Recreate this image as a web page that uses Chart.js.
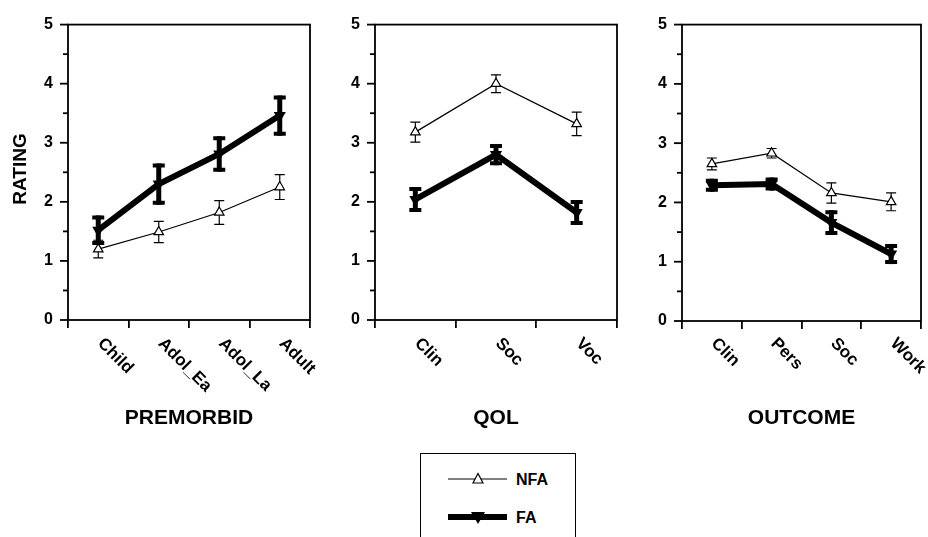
<!DOCTYPE html>
<html><head><meta charset="utf-8">
<script src="https://cdn.jsdelivr.net/npm/chart.js@4.4.1/dist/chart.umd.min.js"></script>
<style>
html,body{margin:0;padding:0;background:#fff;width:928px;height:537px;overflow:hidden;font-family:"Liberation Sans",Arial,sans-serif;}
canvas.panel{position:absolute;top:0;}
#legend{position:absolute;left:420px;top:453px;width:156px;height:100px;border:1.5px solid #000;box-sizing:border-box;}
#legend svg{position:absolute;left:0;top:0;}
</style></head><body>
<canvas id="c1" class="panel" width="320" height="440" style="left:0px"></canvas>
<canvas id="c2" class="panel" width="310" height="440" style="left:320px"></canvas>
<canvas id="c3" class="panel" width="298" height="440" style="left:630px"></canvas>
<div id="legend">
<svg width="156" height="100" xmlns="http://www.w3.org/2000/svg">
  <line x1="27" y1="25" x2="86" y2="25" stroke="#000" stroke-width="1.2"/>
  <polygon points="57,19.5 62,29 52,29" fill="#fff" stroke="#000" stroke-width="1.2"/>
  <text x="95" y="31" font-family="Liberation Sans, Arial, sans-serif" font-weight="bold" font-size="16">NFA</text>
  <line x1="27" y1="63" x2="86" y2="63" stroke="#000" stroke-width="6"/>
  <polygon points="50,58 64,58 57,70" fill="#000"/>
  <text x="95" y="69" font-family="Liberation Sans, Arial, sans-serif" font-weight="bold" font-size="16">FA</text>
</svg>
</div>
<script>
// ---- data ----
const yTickValues = [0, 1, 2, 3, 4, 5];
const seriesNames = ['NFA', 'FA'];

const premorbidLabels = ['Child', 'Adol_Ea', 'Adol_La', 'Adult'];
const premorbidNFA    = [1.20, 1.49, 1.82, 2.25];
const premorbidNFAErr = [0.15, 0.18, 0.20, 0.21];
const premorbidFA     = [1.52, 2.30, 2.81, 3.46];
const premorbidFAErr  = [0.25, 0.35, 0.30, 0.34];

const qolLabels = ['Clin', 'Soc', 'Voc'];
const qolNFA    = [3.18, 4.00, 3.32];
const qolNFAErr = [0.17, 0.15, 0.20];
const qolFA     = [2.04, 2.80, 1.82];
const qolFAErr  = [0.21, 0.18, 0.21];

const outcomeLabels = ['Clin', 'Pers', 'Soc', 'Work'];
const outcomeNFA    = [2.65, 2.83, 2.16, 2.01];
const outcomeNFAErr = [0.10, 0.08, 0.17, 0.15];
const outcomeFA     = [2.29, 2.31, 1.66, 1.13];
const outcomeFAErr  = [0.11, 0.11, 0.21, 0.17];

const panelTitles = ['PREMORBID', 'QOL', 'OUTCOME'];
const yAxisTitle = 'RATING';

// ---- drawing ----
const FONT = '"Liberation Sans", Arial, sans-serif';

const decorPlugin = {
  id: 'decor',
  beforeDatasetsDraw(chart) {
    const ctx = chart.ctx, ys = chart.scales.y;
    ctx.save();
    ctx.strokeStyle = '#000';
    chart.data.datasets.forEach((ds, di) => {
      const meta = chart.getDatasetMeta(di);
      const thick = ds.thickErr;
      meta.data.forEach((pt, i) => {
        const v = ds.data[i], e = ds.errors[i];
        const yt = ys.getPixelForValue(v + e), yb = ys.getPixelForValue(v - e);
        const x = pt.x;
        const half = thick ? 6 : 5;
        ctx.lineCap = 'butt';
        ctx.lineWidth = thick ? 5 : 1.2;
        ctx.beginPath(); ctx.moveTo(x, yt); ctx.lineTo(x, yb); ctx.stroke();
        ctx.lineWidth = thick ? 4 : 1.2;
        const off = thick ? 2 : 0;
        ctx.beginPath();
        ctx.moveTo(x - half, yt + off); ctx.lineTo(x + half, yt + off);
        ctx.moveTo(x - half, yb - off); ctx.lineTo(x + half, yb - off);
        ctx.stroke();
      });
    });
    ctx.restore();
  },
  afterDraw(chart) {
    const ctx = chart.ctx, a = chart.chartArea, ys = chart.scales.y, xs = chart.scales.x;
    const o = chart.options.plugins.decor;
    ctx.save();
    ctx.strokeStyle = '#000';
    ctx.fillStyle = '#000';
    ctx.lineWidth = 1.8;
    ctx.strokeRect(a.left, a.top, a.right - a.left, a.bottom - a.top);
    // y ticks: major and minor
    for (let v = 0; v <= 5.001; v += 0.5) {
      const y = ys.getPixelForValue(v);
      const len = Math.abs(v - Math.round(v)) < 1e-6 ? 8 : 5;
      ctx.beginPath(); ctx.moveTo(a.left - len, y); ctx.lineTo(a.left, y); ctx.stroke();
    }
    // rotated category labels
    ctx.font = 'bold 17px ' + FONT;
    ctx.textAlign = 'left';
    ctx.textBaseline = 'middle';
    chart.data.labels.forEach((lab, i) => {
      const x = xs.getPixelForValue(i);
      ctx.save();
      ctx.translate(x + 2, 341);
      ctx.rotate(Math.PI / 4);
      ctx.fillText(lab, 0, 0);
      ctx.restore();
    });
    // panel title
    ctx.font = 'bold 21px ' + FONT;
    ctx.textAlign = 'center';
    ctx.fillText(o.title, (a.left + a.right) / 2, 418);
    if (o.rating) {
      ctx.save();
      ctx.translate(21, 169);
      ctx.rotate(-Math.PI / 2);
      ctx.font = 'bold 19px ' + FONT;
      ctx.fillText(yAxisTitle, 0, 0);
      ctx.restore();
    }
    ctx.restore();
  }
};

function makePanel(id, labels, nfa, nfaErr, fa, faErr, title, geo) {
  return new Chart(document.getElementById(id), {
    type: 'line',
    data: {
      labels: labels,
      datasets: [
        { label: seriesNames[0], data: nfa, errors: nfaErr, thickErr: false,
          borderColor: '#000', borderWidth: 1.2, backgroundColor: '#fff',
          pointStyle: 'triangle', pointRadius: 5.5, pointBorderWidth: 1.2,
          pointBackgroundColor: '#fff', pointBorderColor: '#000', tension: 0, clip: false, order: 2 },
        { label: seriesNames[1], data: fa, errors: faErr, thickErr: true,
          borderColor: '#000', borderWidth: 6, backgroundColor: '#000',
          pointStyle: 'triangle', pointRotation: 180, pointRadius: 7, pointBorderWidth: 0,
          pointBackgroundColor: '#000', tension: 0, clip: false, order: 1 }
      ]
    },
    options: {
      responsive: false, animation: false, devicePixelRatio: 1,
      layout: { padding: { left: 0, right: geo.padRight, top: geo.top, bottom: 0 } },
      plugins: { legend: { display: false }, tooltip: { enabled: false },
                 decor: { title: title, rating: !!geo.rating } },
      scales: {
        x: {
          type: 'category', offset: true,
          grid: { offset: true, drawOnChartArea: false, drawTicks: true, tickLength: 8, color: '#000', lineWidth: 1.8 },
          border: { display: false },
          ticks: { display: false },
          afterFit(s) { s.height = geo.xHeight; }
        },
        y: {
          min: 0, max: 5,
          afterBuildTicks(s) { s.ticks = yTickValues.map(v => ({ value: v })); },
          grid: { display: false, drawTicks: false },
          border: { display: false },
          ticks: { padding: 15, color: '#000', font: { family: FONT, weight: 'bold', size: 16 } },
          afterFit(s) { s.width = geo.yWidth; }
        }
      }
    },
    plugins: [decorPlugin]
  });
}

makePanel('c1', premorbidLabels, premorbidNFA, premorbidNFAErr, premorbidFA, premorbidFAErr, panelTitles[0],
  { yWidth: 68, padRight: 10, top: 16, xHeight: 120, rating: true });
makePanel('c2', qolLabels, qolNFA, qolNFAErr, qolFA, qolFAErr, panelTitles[1],
  { yWidth: 55, padRight: 13, top: 16, xHeight: 120 });
makePanel('c3', outcomeLabels, outcomeNFA, outcomeNFAErr, outcomeFA, outcomeFAErr, panelTitles[2],
  { yWidth: 52, padRight: 5, top: 17, xHeight: 119 });
</script>
</body></html>
